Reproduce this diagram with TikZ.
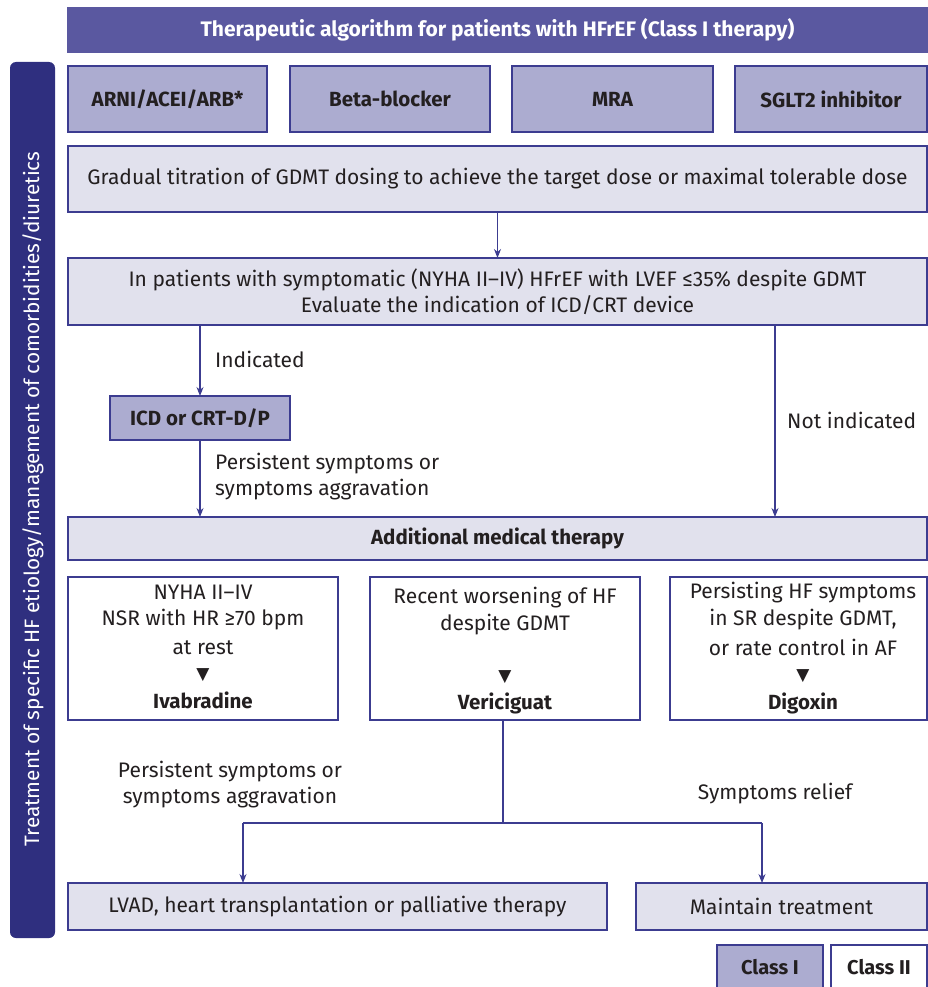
\documentclass[tikz,border=0pt]{standalone}
\usepackage{fontspec}
\setmainfont{Fira Sans}
\newfontfamily\symfont{DejaVu Sans}
\usetikzlibrary{arrows.meta}
\definecolor{titlefill}{HTML}{5A58A0}
\definecolor{sidefill}{HTML}{2F2F7F}
\definecolor{lav}{HTML}{ACACD0}
\definecolor{light}{HTML}{E1E1ED}
\definecolor{edge}{HTML}{3C3C90}
\definecolor{txt}{HTML}{231F20}
\tikzset{
  base/.style={draw=edge, line width=1.1pt, inner sep=0pt, outer sep=0pt, text=txt, align=center},
  lavbox/.style={base, fill=lav, font=\bfseries\fontsize{20.5}{24}\selectfont},
  lightbox/.style={base, fill=light, font=\fontsize{21}{26}\selectfont},
  whitebox/.style={base, fill=white},
  lbl/.style={text=txt, font=\fontsize{21}{26}\selectfont, align=left, inner sep=0pt},
  intxt/.style={text=txt, font=\fontsize{21}{26}\selectfont, inner sep=0pt},
  arr/.style={draw=edge, line width=1.1pt, -{Stealth[length=9pt,width=7pt]}},
  ln/.style={draw=edge, line width=1.1pt}
}
\begin{document}
\begin{tikzpicture}[x=1pt,y=-1pt]
\useasboundingbox (0,0) rectangle (927,987);
% title
\node[base, draw=titlefill, fill=titlefill, text=white, minimum width=859pt, minimum height=44pt, font=\bfseries\fontsize{21}{24}\selectfont] (title) at (497.5,30) {Therapeutic algorithm for patients with HFrEF (Class I therapy)};
% sidebar
\node[fill=sidefill, rounded corners=6pt, minimum width=45pt, minimum height=876pt, inner sep=0pt] (side) at (32.5,500) {};
\node[rotate=90, text=white, font=\fontsize{20.8}{24}\selectfont, inner sep=0pt] (sidetxt) at (33,499) {Treatment of specific HF etiology/management of comorbidities/diuretics};
% top row
\node[lavbox, minimum width=199pt, minimum height=66pt] (arni) at (167.5,99) {ARNI/ACEI/ARB*};
\node[lavbox, minimum width=200pt, minimum height=66pt] (beta) at (390,99) {Beta-blocker};
\node[lavbox, minimum width=201pt, minimum height=66pt] (mra) at (612.5,99) {MRA};
\node[lavbox, minimum width=192pt, minimum height=66pt] (sglt) at (831,99) {SGLT2 inhibitor};
% gradual
\node[lightbox, minimum width=859pt, minimum height=66pt] (grad) at (497.5,179) {Gradual titration of GDMT dosing to achieve the target dose or maximal tolerable dose};
\node[lightbox, minimum width=859pt, minimum height=67pt] (pat) at (497.5,291.5) {In patients with symptomatic (NYHA II–IV) HFrEF with LVEF ≤35\% despite GDMT\\Evaluate the indication of ICD/CRT device};
\draw[arr] (grad.south) -- (pat.north);
% ICD
\node[lavbox, minimum width=180pt, minimum height=44pt] (icd) at (200,418) {ICD or CRT-D/P};
\node[lightbox, font=\bfseries\fontsize{20.5}{24}\selectfont, minimum width=859pt, minimum height=43pt] (add) at (497.5,538.5) {Additional medical therapy};
\draw[arr] (pat.south -| icd.north) -- (icd.north);
\draw[arr] (icd.south) -- (icd.south |- add.north);
\coordinate (nr) at (775,325);
\draw[arr] (nr) -- (nr |- add.north);
\node[lbl, anchor=west] (ind) at (215,359) {Indicated};
\node[lbl, anchor=west] (notind) at (787,420) {Not indicated};
\node[lbl, anchor=west] (pers1) at (215,477) {Persistent symptoms or\\symptoms aggravation};
% three boxes
\node[whitebox, minimum width=270pt, minimum height=143pt] (ivab) at (203,648.5) {};
\node[whitebox, minimum width=270pt, minimum height=143pt] (veri) at (505,648.5) {};
\node[whitebox, minimum width=257pt, minimum height=143pt] (digo) at (798.5,648.5) {};
\node[intxt] (t1a) at (203,592) {NYHA II–IV};
\node[intxt] (t1b) at (203,620) {NSR with HR ≥70 bpm};
\node[intxt] (t1c) at (203,648) {at rest};
\node[intxt, font=\symfont\fontsize{17}{18}\selectfont] (t1d) at (203,675) {▼};
\node[intxt, font=\bfseries\fontsize{20.5}{24}\selectfont] (t1e) at (203,700) {Ivabradine};
\node[intxt] (t2a) at (505,598) {Recent worsening of HF};
\node[intxt] (t2b) at (505,625) {despite GDMT};
\node[intxt, font=\symfont\fontsize{17}{18}\selectfont] (t2d) at (505,677) {▼};
\node[intxt, font=\bfseries\fontsize{20.5}{24}\selectfont] (t2e) at (505,703) {Vericiguat};
\node[intxt] (t3a) at (803,593) {Persisting HF symptoms};
\node[intxt] (t3b) at (803,620) {in SR despite GDMT,};
\node[intxt] (t3c) at (803,647) {or rate control in AF};
\node[intxt, font=\symfont\fontsize{17}{18}\selectfont] (t3d) at (803,676) {▼};
\node[intxt, font=\bfseries\fontsize{20.5}{24}\selectfont] (t3e) at (803,703) {Digoxin};
% bottom
\node[lightbox, minimum width=539pt, minimum height=47pt] (lvad) at (337.5,906.5) {LVAD, heart transplantation or palliative therapy};
\node[lightbox, minimum width=291pt, minimum height=47pt] (maint) at (781.5,906.5) {Maintain treatment};
\coordinate (split) at (503,823);
\coordinate (lsplit) at (243,823);
\coordinate (rsplit) at (762,823);
\draw[ln] (veri.south -| split) -- (split);
\draw[ln] (lsplit) -- (rsplit);
\draw[arr] (lsplit) -- (lsplit |- lvad.north);
\draw[arr] (rsplit) -- (rsplit |- maint.north);
\node[lbl, align=center] (pers2) at (230,784.5) {Persistent symptoms or\\symptoms aggravation};
\node[lbl] (relief) at (775,794) {Symptoms relief};
% legend
\node[lavbox, font=\bfseries\fontsize{20}{24}\selectfont, minimum width=106pt, minimum height=44pt] (c1) at (770,967) {Class I};
\node[whitebox, font=\bfseries\fontsize{20}{24}\selectfont, minimum width=96pt, minimum height=44pt] (c2) at (879,967) {Class II};
\end{tikzpicture}
\end{document}
